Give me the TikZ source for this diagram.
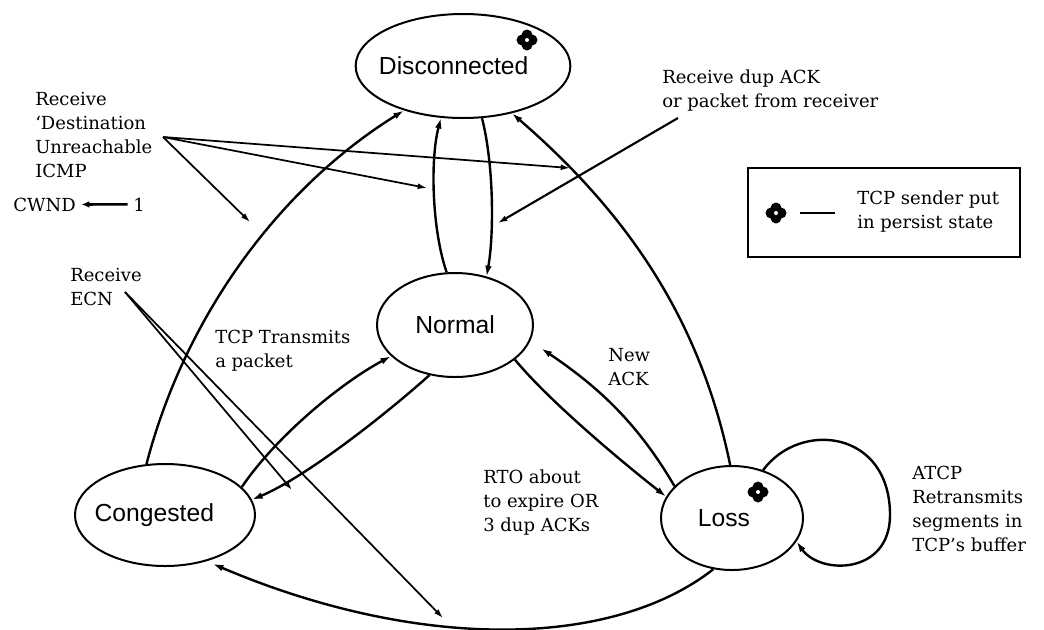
\documentclass[tikz,border=0pt]{standalone}
\usepackage{fontspec}
\setmainfont{DejaVu Serif}
\newfontfamily\statefont{Liberation Sans}
\usetikzlibrary{arrows.meta,shapes.geometric}
\begin{document}
\begin{tikzpicture}[x=0.75pt,y=-0.75pt,
  state/.style={ellipse,draw,line width=1.5pt,inner sep=0pt,
    font=\statefont\fontsize{18.5}{22}\selectfont},
  note/.style={anchor=north west,inner sep=0pt,align=left,
    font=\fontsize{13.5}{18}\selectfont},
  trans/.style={line width=1.8pt,-{Latex[length=8pt,width=5pt]}},
  cue/.style={line width=1.3pt,-{Latex[length=7pt,width=4.5pt]}},
  persist/.pic={
    \fill (5,0) circle (5.5) (-5,0) circle (5.5) (0,5) circle (5.5)
          (0,-5) circle (5.5) (0,0) circle (6);
    \fill[white] (0,0) circle (2);
  }]
\fill[white] (0,0) rectangle (1044,629);
\useasboundingbox (0,0) rectangle (1044,629);

% states (labels sit a little left of the ellipse centres)
\node[state,minimum width=161pt,minimum height=78pt] (dis) at (463,66)
  {\makebox[0pt]{\hspace*{-14pt}Disconnected}};
\node[state,minimum width=117pt,minimum height=78pt] (nor) at (455,325) {Normal};
\node[state,minimum width=135pt,minimum height=76.5pt] (con) at (165,515)
  {\makebox[0pt]{\hspace*{-16pt}Congested}};
\node[state,minimum width=106.5pt,minimum height=78pt] (los) at (732,518)
  {\makebox[0pt]{\hspace*{-12pt}Loss}};

% persist-state markers
\pic at (527,40) {persist};
\pic at (758,492) {persist};

% transitions between states
\draw[trans] (con.110) .. controls (184,320) and (276,190) .. (dis.217);
\draw[trans] (nor.99) .. controls (432,230) and (430,160) .. (dis.247);
\draw[trans] (dis.290) .. controls (494,165) and (494,235) .. (nor.57);
\draw[trans] (los.92) .. controls (700,318) and (626,212) .. (dis.316);
\draw[trans] (nor.243) .. controls (385,415) and (306,477) .. (con.10);
\draw[trans] (con.20) .. controls (275,438) and (339,384) .. (nor.206);
\draw[trans] (nor.-30) .. controls (549,401) and (622,462) .. (los.162);
\draw[trans,shorten >=10pt] (los.151) .. controls (638,424) and (600,388) .. (nor.-12);
\draw[trans,shorten >=5pt] (los.250) .. controls (610,650) and (415,650) .. (con.-48);
\draw[trans] (los.57) .. controls (800,420) and (890,430) .. (890,515)
                      .. controls (890,575) and (820,575) .. (los.-20);

% event labels
\node[note] (dstTxt) at (35,92) {Receive\\‘Destination\\Unreachable\\ICMP};
\node[anchor=base west,inner sep=0pt,font=\fontsize{13.5}{18}\selectfont] (cwnd) at (13,211) {CWND};
\node[anchor=base west,inner sep=0pt,font=\fontsize{13.5}{18}\selectfont] (one) at (133,211) {1};
\draw[line width=2pt,-{Latex[length=6pt,width=5pt]},shorten >=4pt,shorten <=4pt] (one.west) -- (cwnd.east);

\node[note] (dupTxt) at (662,70) {Receive dup ACK\\or packet from receiver};
\node[note] (ecnTxt) at (70,268) {Receive\\ECN};
\node[note] (tcpTxt) at (215,330) {TCP Transmits\\a packet};
\node[note] (ackTxt) at (608,348) {New\\ACK};
\node[note] (rtoTxt) at (483,470) {RTO about\\to expire OR\\3 dup ACKs};
\node[note] (atcpTxt) at (912,466) {ATCP\\Retransmits\\segments in\\TCP's buffer};

% event pointers
\coordinate (dstSrc) at (163,137);
\coordinate (dstA) at (427,188);
\coordinate (dstB) at (570,168);
\coordinate (dstC) at (250,222);
\draw[cue] (dstSrc) -- (dstA);
\draw[cue] (dstSrc) -- (dstB);
\draw[cue] (dstSrc) -- (dstC);

\coordinate (dupSrc) at (678,118);
\coordinate (dupA) at (498,223);
\draw[cue,line width=1.6pt] (dupSrc) -- (dupA);

\coordinate (ecnSrc) at (125,292);
\coordinate (ecnA) at (292,490);
\coordinate (ecnB) at (443,618);
\draw[cue] (ecnSrc) -- (ecnA);
\draw[cue] (ecnSrc) -- (ecnB);

% legend
\node[draw,line width=1.6pt,inner sep=0pt,minimum width=204pt,minimum height=66.75pt] (legend) at (884,212.5) {};
\pic at (776,213) {persist};
\coordinate (dashL) at (800,213);
\coordinate (dashR) at (835,213);
\draw[line width=1.1pt] (dashL) -- (dashR);
\node[note] (legTxt) at (857,191) {TCP sender put\\in persist state};
\end{tikzpicture}
\end{document}
